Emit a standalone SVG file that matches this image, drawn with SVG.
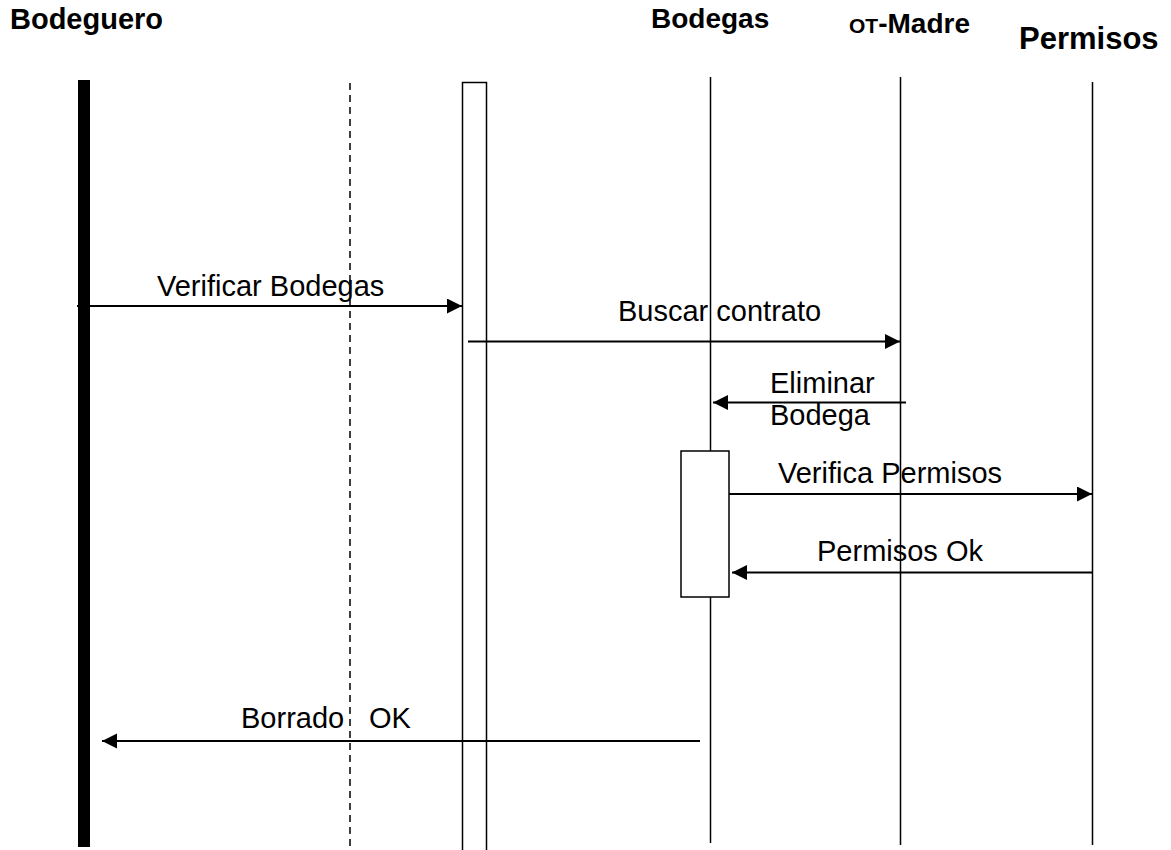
<svg xmlns="http://www.w3.org/2000/svg" width="1171" height="850" viewBox="0 0 1171 850">
<style>
.hdr{font-family:"Liberation Sans",Arial,sans-serif;font-weight:bold;fill:#000}
.lbl{font-family:"Liberation Sans",Arial,sans-serif;font-size:29px;fill:#000}
.life{stroke:#000;stroke-width:1.5;fill:none}
.msg{stroke:#000;stroke-width:2;fill:none;marker-end:url(#arr)}
</style>
<defs>
<marker id="arr" markerUnits="userSpaceOnUse" markerWidth="16" markerHeight="16" refX="15" refY="7.5" orient="auto">
<path d="M0,0 L15,7.5 L0,15 Z" fill="#000"/>
</marker>
</defs>
<rect width="1171" height="850" fill="#fff"/>
<g id="bodeguero">
<text class="hdr" x="10" y="29" font-size="29">Bodeguero</text>
<rect x="78" y="80" width="12" height="767" fill="#000"/>
</g>
<g id="dashed-lifeline">
<line x1="350" y1="83" x2="350" y2="850" stroke="#000" stroke-width="1.5" stroke-dasharray="7 5"/>
</g>
<g id="controller">
<path class="life" d="M462.5,850 V82.5 H486.5 V850"/>
</g>
<g id="bodegas">
<text class="hdr" x="651" y="28" font-size="28">Bodegas</text>
<line class="life" x1="710.5" y1="77" x2="710.5" y2="451"/>
<line class="life" x1="710.5" y1="597" x2="710.5" y2="843"/>
<rect x="681" y="451" width="48" height="146" fill="#fff" stroke="#000" stroke-width="1.5"/>
</g>
<g id="ot-madre">
<text class="hdr" x="849" y="33"><tspan font-size="21">OT</tspan><tspan font-size="28">-Madre</tspan></text>
<line class="life" x1="900.5" y1="77" x2="900.5" y2="845"/>
</g>
<g id="permisos">
<text class="hdr" x="1019" y="49" font-size="31">Permisos</text>
<line class="life" x1="1092.5" y1="82" x2="1092.5" y2="845"/>
</g>
<g id="connectors">
<line class="msg" x1="77" y1="306" x2="462" y2="306"/>
<line class="msg" x1="468" y1="341.5" x2="900" y2="341.5"/>
<line class="msg" x1="906" y1="402.5" x2="713" y2="402.5"/>
<line class="msg" x1="729" y1="494" x2="1092" y2="494"/>
<line class="msg" x1="1092" y1="572.5" x2="732" y2="572.5"/>
<line class="msg" x1="700" y1="741" x2="102" y2="741"/>
</g>
<g id="labels">
<text class="lbl" x="157" y="296">Verificar Bodegas</text>
<text class="lbl" x="618" y="321">Buscar contrato</text>
<text class="lbl" x="770" y="393">Eliminar</text>
<text class="lbl" x="770" y="425">Bodega</text>
<text class="lbl" x="778" y="483">Verifica Permisos</text>
<text class="lbl" x="817" y="561">Permisos Ok</text>
<text class="lbl" y="728"><tspan x="241">Borrado</tspan><tspan x="369">OK</tspan></text>
</g>
</svg>
